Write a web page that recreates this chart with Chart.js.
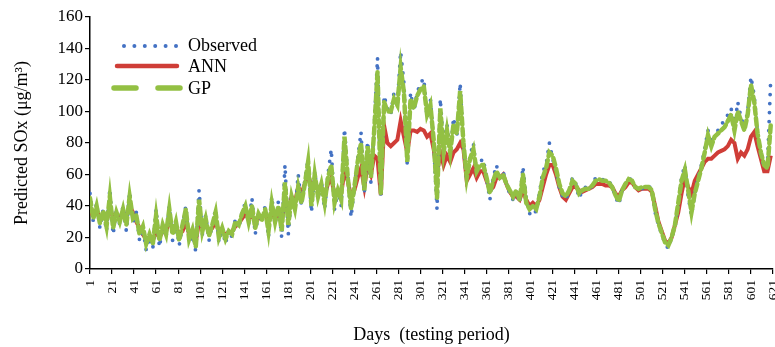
<!DOCTYPE html>
<html>
<head>
<meta charset="utf-8">
<script src="https://cdn.jsdelivr.net/npm/chart.js@4"></script>
<style>
  html, body { margin: 0; padding: 0; background: #fff; overflow: hidden; }
  #wrap { width: 775px; height: 347px; position: relative; }
</style>
</head>
<body>
<div id="wrap"><canvas id="soxChart"></canvas></div>
<script>
// sampled testing days (every 3rd day)
const days = [];
for (let d = 1; d <= 621; d += 3) days.push(d);

const observed = [
    48, 30, 42, 26, 38, 24, 51,
    22, 38, 28, 40, 24, 49, 30,
    36, 18, 26, 12, 20, 13, 38,
    14, 26, 20, 40, 18, 30, 15,
    28, 40, 16, 24, 11, 50, 22,
    34, 18, 28, 38, 17, 26, 16,
    25, 20, 32, 26, 36, 42, 28,
    45, 22, 36, 30, 40, 20, 46,
    28, 43, 20, 66, 22, 48, 36,
    60, 40, 56, 70, 36, 62, 44,
    56, 38, 60, 76, 38, 50, 40,
    89, 60, 33, 52, 70, 87, 48,
    81, 55, 90, 134, 46, 110, 102,
    98, 112, 104, 138, 118, 66, 112,
    100, 112, 118, 121, 96, 108, 80,
    38, 108, 76, 92, 72, 96, 84,
    118, 78, 56, 72, 80, 60, 68,
    70, 58, 44, 58, 66, 56, 62,
    54, 48, 44, 50, 42, 65, 44,
    35, 38, 36, 48, 62, 66, 80,
    70, 62, 52, 46, 44, 50, 58,
    54, 45, 50, 52, 50, 53, 58,
    58, 57, 56, 56, 52, 46, 41,
    50, 54, 58, 56, 52, 50, 51,
    52, 53, 50, 36, 28, 22, 16,
    13, 20, 26, 42, 58, 66, 46,
    34, 48, 58, 66, 76, 88, 80,
    84, 88, 92, 94, 98, 102, 90,
    106, 96, 90, 100, 122, 110, 86,
    72, 64, 66, 122
];

const ann = [
    36, 34, 38, 32, 35, 31, 38,
    33, 35, 32, 36, 33, 40, 36,
    30, 26, 22, 19, 20, 18, 24,
    20, 24, 24, 30, 26, 27, 22,
    24, 30, 22, 21, 17, 30, 26,
    28, 24, 26, 30, 24, 24, 22,
    23, 24, 27, 29, 32, 35, 32,
    34, 30, 32, 33, 35, 30, 36,
    32, 36, 30, 44, 36, 46, 42,
    52, 48, 54, 60, 52, 56, 50,
    52, 47, 54, 58, 47, 50, 48,
    62, 56, 46, 50, 58, 64, 52,
    66, 60, 72, 70, 47, 91, 80,
    78, 80, 82, 94, 84, 74, 88,
    88, 87, 89, 88, 84, 86, 76,
    60, 74, 66, 72, 68, 74, 76,
    80, 76, 56, 60, 64, 58, 62,
    62, 56, 50, 52, 58, 58, 60,
    54, 49, 46, 46, 44, 50, 44,
    40, 42, 40, 44, 52, 60, 66,
    66, 60, 52, 46, 44, 48, 52,
    52, 50, 49, 50, 51, 52, 54,
    54, 54, 53, 53, 52, 48, 46,
    50, 52, 55, 55, 52, 50, 51,
    51, 51, 49, 40, 30, 24, 18,
    16, 20, 28, 36, 48, 58, 52,
    48, 56, 60, 64, 68, 70, 70,
    72, 74, 75, 76, 78, 82, 80,
    70, 74, 72, 76, 84, 87, 78,
    70, 62, 62, 72
];

const gp = [
    45, 32, 40, 29, 37, 27, 46,
    26, 36, 30, 38, 28, 46, 32,
    34, 22, 27, 16, 22, 16, 34,
    18, 28, 22, 38, 22, 30, 18,
    28, 38, 19, 25, 14, 44, 24,
    32, 21, 28, 36, 20, 26, 19,
    24, 22, 30, 28, 35, 40, 30,
    40, 26, 35, 31, 38, 24, 42,
    30, 40, 24, 55, 28, 46, 38,
    52, 42, 54, 68, 40, 60, 46,
    54, 42, 58, 66, 42, 50, 44,
    84, 58, 38, 52, 68, 80, 50,
    78, 58, 88, 125, 48, 106, 100,
    100, 108, 104, 128, 112, 68, 108,
    102, 110, 114, 116, 98, 104, 82,
    45, 102, 74, 88, 74, 92, 86,
    113, 80, 58, 70, 76, 62, 66,
    66, 58, 48, 56, 62, 58, 60,
    54, 50, 46, 50, 44, 60, 42,
    38, 40, 38, 46, 58, 64, 74,
    72, 64, 54, 48, 46, 50, 56,
    54, 48, 50, 51, 51, 53, 56,
    57, 56, 56, 55, 52, 47, 43,
    50, 54, 57, 56, 52, 51, 52,
    52, 52, 50, 38, 29, 23, 17,
    15, 20, 28, 42, 56, 63, 50,
    36, 48, 56, 64, 74, 85, 78,
    84, 86, 88, 90, 94, 98, 88,
    100, 94, 88, 98, 117, 106, 86,
    74, 66, 64, 92
];

const yTicks = { min: 0, max: 160, step: 20 };
const xTicks = { min: 1, max: 621, step: 20 };

const BLUE = '#4472c4';
const RED = '#cf3d37';
const GREEN = '#93c043';
const SERIF = "'Liberation Serif', 'Times New Roman', serif";

function toPoints(arr) {
    return days.map((d, i) => ({ x: d, y: arr[i] }));
}

// legend drawn inside the plot, top-left
const insideLegend = {
    id: 'insideLegend',
    afterDraw(chart) {
        const ctx = chart.ctx;
        ctx.save();
        ctx.lineCap = 'round';

        ctx.fillStyle = BLUE;
        for (let i = 0; i < 6; i++) {
            ctx.beginPath();
            ctx.arc(124 + i * 10.4, 46, 2, 0, Math.PI * 2);
            ctx.fill();
        }

        ctx.strokeStyle = RED;
        ctx.lineWidth = 4.5;
        ctx.beginPath();
        ctx.moveTo(117, 66);
        ctx.lineTo(177, 66);
        ctx.stroke();

        ctx.strokeStyle = GREEN;
        ctx.lineWidth = 5.5;
        ctx.beginPath();
        ctx.moveTo(114, 88);
        ctx.lineTo(136, 88);
        ctx.moveTo(158, 88);
        ctx.lineTo(180, 88);
        ctx.stroke();

        ctx.fillStyle = '#000';
        ctx.font = '18px ' + SERIF;
        ctx.textBaseline = 'middle';
        ctx.fillText('Observed', 188, 46);
        ctx.fillText('ANN', 188, 67);
        ctx.fillText('GP', 188, 89);
        ctx.restore();
    }
};

const ctx = document.getElementById('soxChart').getContext('2d');
new Chart(ctx, {
    type: 'line',
    data: {
        datasets: [
            {
                label: 'GP',
                data: toPoints(gp),
                borderColor: GREEN,
                borderWidth: 4.5,
                borderDash: [7, 4],
                borderCapStyle: 'round',
                pointRadius: 0,
                tension: 0,
                order: 0
            },
            {
                label: 'Observed',
                data: toPoints(observed),
                borderColor: BLUE,
                borderWidth: 3.8,
                borderDash: [0, 9],
                borderCapStyle: 'round',
                pointRadius: 0,
                tension: 0,
                order: 1
            },
            {
                label: 'ANN',
                data: toPoints(ann),
                borderColor: RED,
                borderWidth: 4,
                pointRadius: 0,
                tension: 0,
                order: 2
            }
        ]
    },
    options: {
        responsive: true,
        maintainAspectRatio: false,
        animation: false,
        layout: { padding: { top: 17, right: 2, bottom: 0, left: 0 } },
        plugins: {
            legend: { display: false },
            tooltip: { enabled: false }
        },
        scales: {
            x: {
                type: 'linear',
                min: xTicks.min,
                max: xTicks.max,
                afterFit(s) { s.height = 78; s.paddingLeft = 0; s.paddingRight = 0; },
                ticks: {
                    stepSize: xTicks.step,
                    autoSkip: false,
                    minRotation: 90,
                    maxRotation: 90,
                    padding: 6,
                    color: '#000',
                    font: { family: SERIF, size: 13.5 }
                },
                grid: {
                    drawOnChartArea: false,
                    tickLength: 5,
                    color: '#000',
                    lineWidth: 1.2
                },
                border: { display: true, color: '#000', width: 1.5 },
                title: {
                    display: true,
                    text: 'Days  (testing period)',
                    color: '#000',
                    font: { family: SERIF, size: 18 },
                    padding: { top: 0, bottom: 1 }
                }
            },
            y: {
                min: yTicks.min,
                max: yTicks.max,
                afterFit(s) { s.width = 90; s.paddingTop = 0; s.paddingBottom = 0; },
                ticks: {
                    stepSize: yTicks.step,
                    padding: 2,
                    color: '#000',
                    font: { family: SERIF, size: 17 }
                },
                grid: {
                    drawOnChartArea: false,
                    tickLength: 5,
                    color: '#000',
                    lineWidth: 1.2
                },
                border: { display: true, color: '#000', width: 1.5 },
                title: {
                    display: true,
                    text: 'Predicted SOx (\u03bcg/m\u00b3)',
                    color: '#000',
                    font: { family: SERIF, size: 18 },
                    padding: { top: 11, bottom: 0 }
                }
            }
        }
    },
    plugins: [insideLegend]
});
</script>
</body>
</html>
